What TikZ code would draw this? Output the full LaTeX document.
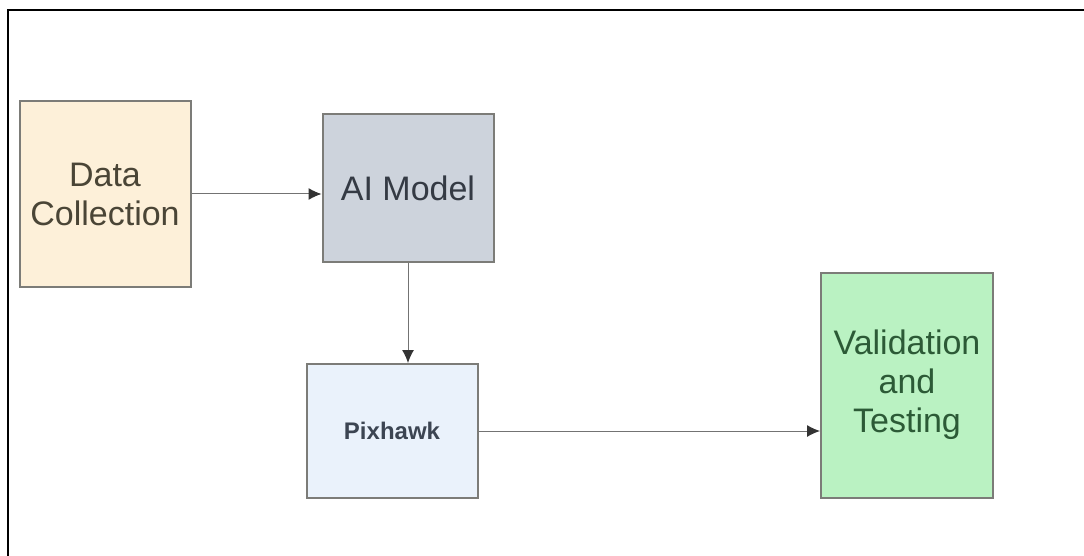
\documentclass[tikz,border=0pt]{standalone}
\usepackage{fontspec}
\setmainfont{Liberation Sans}
\usetikzlibrary{arrows.meta, positioning}

\definecolor{dcfill}{HTML}{FDF0D9}
\definecolor{dctext}{HTML}{4A4536}
\definecolor{aifill}{HTML}{CDD3DC}
\definecolor{aitext}{HTML}{343A44}
\definecolor{pxfill}{HTML}{EAF2FB}
\definecolor{pxtext}{HTML}{3C4552}
\definecolor{vtfill}{HTML}{BAF2C2}
\definecolor{vttext}{HTML}{2C5A36}
\definecolor{boxline}{HTML}{7C7C78}

\begin{document}
\begin{tikzpicture}[x=1pt, y=-1pt]
	\tikzset{box/.style={draw=boxline, line width=2pt, align=center, inner sep=0pt,
			font=\fontsize{34}{39}\selectfont},
		link/.style={draw=black!55, line width=1pt, -{Latex[length=13pt, width=12pt, color=black!80]}}}

	\useasboundingbox (0,0) rectangle (1084,556);
	\draw[line width=2pt] (1084,10) -- (8,10) -- (8,556);

	\node[box, fill=dcfill, text=dctext, minimum width=171pt, minimum height=186pt] (dc) at (105,194) {Data\\Collection};
	\node[box, fill=aifill, text=aitext, minimum width=171pt, minimum height=147pt] (ai) at (408,188) {AI Model};
	\node[box, fill=pxfill, text=pxtext, minimum width=171pt, minimum height=134pt,
		font=\fontsize{24}{29}\selectfont\bfseries] (px) at (392,431) {Pixhawk};
	\node[box, fill=vtfill, text=vttext, minimum width=172pt, minimum height=225pt] (vt) at (907,385) {Validation\\and\\Testing};

	\draw[link] (dc.east) -- (ai.west |- dc.east);
	\draw[link] (ai.south) -- (ai.south |- px.north);
	\draw[link] (px.east) -- (vt.west |- px.east);
\end{tikzpicture}
\end{document}
